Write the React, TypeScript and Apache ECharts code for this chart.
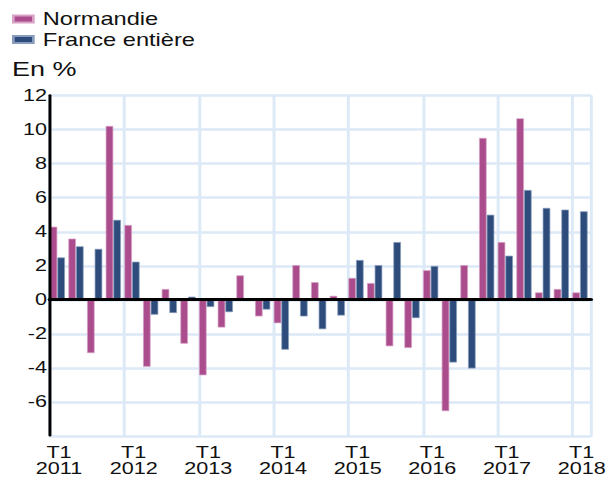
import React, { useEffect, useRef } from "react";
import * as echarts from "echarts";

const categories = [
  "T1 2011", "T2 2011", "T3 2011", "T4 2011",
  "T1 2012", "T2 2012", "T3 2012", "T4 2012",
  "T1 2013", "T2 2013", "T3 2013", "T4 2013",
  "T1 2014", "T2 2014", "T3 2014", "T4 2014",
  "T1 2015", "T2 2015", "T3 2015", "T4 2015",
  "T1 2016", "T2 2016", "T3 2016", "T4 2016",
  "T1 2017", "T2 2017", "T3 2017", "T4 2017",
  "T1 2018",
];

const normandie = [
  4.3, 3.6, -3.1, 10.2,
  4.4, -3.9, 0.65, -2.55,
  -4.4, -1.6, 1.45, -0.95,
  -1.35, 2.05, 1.05, 0.25,
  1.3, 1.0, -2.7, -2.8,
  1.75, -6.5, 2.05, 9.5,
  3.4, 10.65, 0.45, 0.65,
  0.45,
];

const franceEntiere = [
  2.5, 3.15, 3.0, 4.7,
  2.25, -0.85, -0.75, 0.2,
  -0.4, -0.7, 0.05, -0.55,
  -2.9, -0.95, -1.7, -0.9,
  2.35, 2.05, 3.4, -1.05,
  2.0, -3.65, -4.0, 5.0,
  2.6, 6.45, 5.4, 5.3,
  5.2,
];

const seriesNames = ["Normandie", "France entière"];
const unitLabel = "En %";

const STRETCH = 1.35;
const INNER_W = 452;
const H = 477;

const FONT = "'Liberation Sans', Arial, Helvetica, sans-serif";
const PINK = "#ab4d8d";
const BLUE = "#2d4c7c";
const GRID_COLOR = "#dce9f6";

export default function App() {
  const ref = useRef<HTMLDivElement>(null);

  useEffect(() => {
    if (!ref.current) return;
    const chart = echarts.init(ref.current, null, { renderer: "svg" });

    const plotLeft = 36.8;
    const plotRight = 14.2;
    const shift = 1.26;
    const top = 95.3;
    const bottom = 40.3;

    const yCommon = { type: "value" as const, min: -8, max: 12, interval: 2 };

    chart.setOption({
      animation: false,
      textStyle: { fontFamily: FONT },
      title: {
        text: unitLabel,
        left: 8.9,
        top: 58.5,
        padding: 0,
        textStyle: { fontSize: 20, fontWeight: "normal", color: "#111", fontFamily: FONT },
      },
      legend: {
        orient: "vertical",
        left: 8.9,
        top: 10,
        padding: 0,
        itemWidth: 14.8,
        itemHeight: 7,
        itemGap: 2.5,
        icon: "rect",
        data: seriesNames,
        textStyle: {
          fontSize: 17.5,
          lineHeight: 17,
          color: "#111",
          fontFamily: FONT,
          padding: [0, 0, 0, 2],
        },
      },
      grid: [
        { left: plotLeft, right: plotRight, top, bottom },
        { left: plotLeft - shift, right: plotRight + shift, top, bottom },
        { left: plotLeft, right: plotRight, top, bottom },
      ],
      xAxis: [
        {
          gridIndex: 0,
          type: "category",
          data: categories,
          boundaryGap: true,
          axisLine: { show: false },
          axisTick: { show: false },
          axisLabel: { show: false },
          splitLine: { show: true, interval: 3, lineStyle: { color: GRID_COLOR, width: 2.2 } },
          z: 0,
        },
        {
          gridIndex: 1,
          type: "category",
          data: categories,
          show: false,
        },
        {
          gridIndex: 2,
          type: "category",
          data: categories,
          boundaryGap: true,
          axisLine: { show: true, lineStyle: { color: "#000", width: 3 } },
          axisTick: { show: false },
          splitLine: { show: false },
          axisLabel: {
            interval: 3,
            margin: 9.5,
            fontSize: 16,
            lineHeight: 16,
            color: "#111",
            fontFamily: FONT,
            formatter: (v: string) => v.replace(" ", "\n"),
          },
          z: 5,
        },
      ],
      yAxis: [
        {
          ...yCommon,
          gridIndex: 0,
          axisLine: { show: false },
          axisTick: { show: false },
          axisLabel: { show: false },
          splitLine: { show: true, lineStyle: { color: GRID_COLOR, width: 2.5 } },
          z: 0,
        },
        { ...yCommon, gridIndex: 1, show: false },
        {
          ...yCommon,
          gridIndex: 2,
          axisLine: { show: true, lineStyle: { color: "#000", width: 2.2 } },
          axisTick: { show: false },
          splitLine: { show: false },
          axisLabel: {
            margin: 2,
            fontSize: 16,
            color: "#111",
            fontFamily: FONT,
            formatter: (v: number) => (v === -8 ? "" : String(v)),
          },
          z: 5,
        },
      ],
      series: [
        {
          name: seriesNames[0],
          type: "bar",
          xAxisIndex: 1,
          yAxisIndex: 1,
          data: normandie,
          barGap: "0%",
          barCategoryGap: "18%",
          itemStyle: { color: PINK, borderColor: "#d7a2c6", borderWidth: 0.6 },
        },
        {
          name: seriesNames[1],
          type: "bar",
          xAxisIndex: 1,
          yAxisIndex: 1,
          data: franceEntiere,
          barGap: "0%",
          barCategoryGap: "18%",
          itemStyle: { color: BLUE, borderColor: "#8a9cbc", borderWidth: 0.6 },
        },
      ],
    });

    return () => chart.dispose();
  }, []);

  return (
    <div
      style={{
        position: "fixed",
        left: 0,
        top: 0,
        width: 610,
        height: H,
        overflow: "hidden",
        background: "#fff",
      }}
    >
      <div
        ref={ref}
        style={{
          width: INNER_W,
          height: H,
          transform: `scaleX(${STRETCH})`,
          transformOrigin: "0 0",
        }}
      />
    </div>
  );
}
